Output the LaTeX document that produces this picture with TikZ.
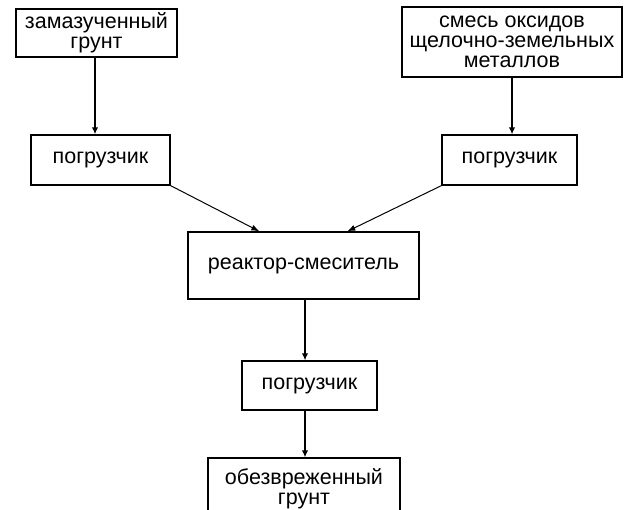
\documentclass[tikz,border=0pt]{standalone}
\usepackage{fontspec}
\setmainfont{Liberation Sans}
\usetikzlibrary{arrows.meta}
\begin{document}
\begin{tikzpicture}[x=1pt,y=-1pt,
  box/.style={draw=black,line width=1.3pt,rectangle,align=center,inner sep=0pt,
    font=\fontsize{21.5}{20}\selectfont},
  vflow/.style={line width=1.6pt,-{Latex[length=7pt,width=6.5pt]}},
  dflow/.style={line width=1pt,-{Latex[length=8pt,width=6pt]}}]
\clip (0,0) rectangle (626,510);
\fill[white] (0,0) rectangle (626,510);
\node[box,minimum width=161pt,minimum height=48pt] (b1) at (96.5,33) {замазученный\\грунт};
\node[box,minimum width=139pt,minimum height=50pt] (b2) at (100.5,160) {погрузчик};
\node[box,minimum width=220pt,minimum height=70pt] (b3) at (512,42) {смесь оксидов\\щелочно-земельных\\металлов};
\node[box,minimum width=135pt,minimum height=50pt] (b4) at (509.5,160) {погрузчик};
\node[box,minimum width=231pt,minimum height=67pt] (b5) at (303.5,265.5) {реактор-смеситель};
\node[box,minimum width=135pt,minimum height=49pt] (b6) at (309.5,385.5) {погрузчик};
\node[box,minimum width=192pt,minimum height=62pt] (b7) at (304,489) {обезвреженный\\грунт};
\draw[vflow] ([xshift=-1.5pt]b1.south) -- ([xshift=-1.5pt]b1.south |- b2.north);
\draw[vflow] (b3.south) -- (b3.south |- b4.north);
\draw[dflow] (b2.south east) -- ([xshift=72pt]b5.north west);
\draw[dflow] (b4.south west) -- ([xshift=160pt]b5.north west);
\draw[vflow] ([xshift=1.5pt]b5.south) -- ([xshift=1.5pt]b5.south |- b6.north);
\draw[vflow] ([xshift=-4.5pt]b6.south) -- ([xshift=-4.5pt]b6.south |- b7.north);
\end{tikzpicture}
\end{document}
